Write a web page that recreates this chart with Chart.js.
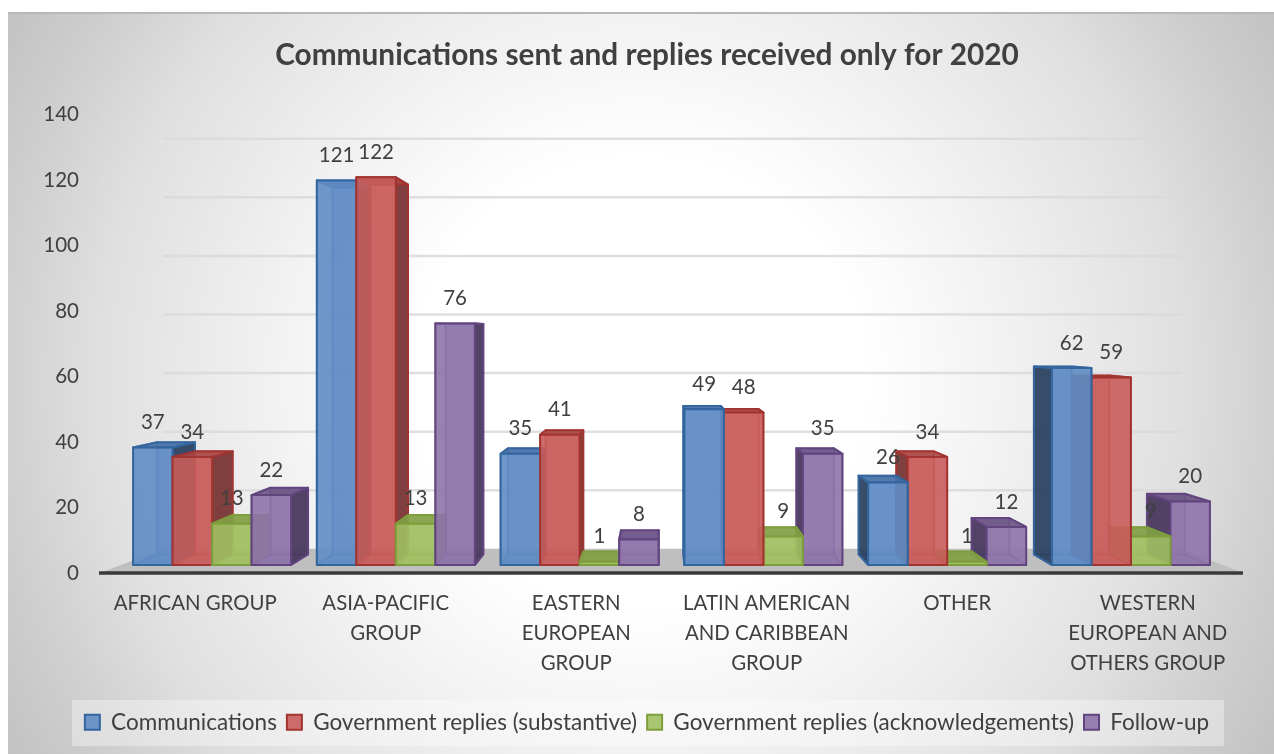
<!DOCTYPE html>
<html>
<head>
<meta charset="utf-8">
<script src="https://cdn.jsdelivr.net/npm/chart.js@4"></script>
<style>
	html, body { margin: 0; padding: 0; background: #fff; overflow: hidden; }
	#wrap { width: 1274px; height: 754px; }
</style>
</head>
<body>
<div id="wrap"><canvas id="chart-canvas" width="1274" height="754"></canvas></div>
<script>
const categories = [
	"AFRICAN GROUP",
	["ASIA-PACIFIC", "GROUP"],
	["EASTERN", "EUROPEAN", "GROUP"],
	["LATIN AMERICAN", "AND CARIBBEAN", "GROUP"],
	"OTHER",
	["WESTERN", "EUROPEAN AND", "OTHERS GROUP"]
];
const communications = [37, 121, 35, 49, 26, 62];
const substantive = [34, 122, 41, 48, 34, 59];
const acknowledgements = [13, 13, 1, 9, 1, 9];
const followUp = [22, 76, 8, 35, 12, 20];

// perspective: everything recedes towards this point
const vanish = {x: 660, y: 335};
const barDepth = 0.046;
const wall = {left: 163, right: 1181};

const withIndex = values => values.map((v, i) => ({x: i, y: v}));

function poly(ctx, pts, fill, edge) {
	ctx.beginPath();
	pts.forEach((p, i) => i ? ctx.lineTo(p[0], p[1]) : ctx.moveTo(p[0], p[1]));
	ctx.closePath();
	if (fill) {
		ctx.fillStyle = fill;
		ctx.fill();
	}
	if (edge) {
		ctx.strokeStyle = edge;
		ctx.stroke();
	}
}

function back(p) {
	return [p[0] + (vanish.x - p[0]) * barDepth, p[1] + (vanish.y - p[1]) * barDepth];
}

function drawBox(ctx, bar, ds) {
	const l = bar.x - bar.width / 2, r = bar.x + bar.width / 2, t = bar.y, b = bar.base;
	const fl = [l, b], fr = [r, b], tl = [l, t], tr = [r, t];
	const bfl = back(fl), bfr = back(fr), btl = back(tl), btr = back(tr);
	const edge = ds.borderColor;
	ctx.lineWidth = 1.6;
	poly(ctx, [btl, btr, bfr, bfl], ds.wallColor, ds.thinEdge);
	poly(ctx, [fl, fr, bfr, bfl], ds.wallColor, ds.thinEdge);
	ctx.lineWidth = 2;
	poly(ctx, [tl, fl, bfl, btl], l > vanish.x ? ds.sideColor : null, l > vanish.x ? edge : ds.thinEdge);
	poly(ctx, [tr, fr, bfr, btr], r < vanish.x ? ds.sideColor : null, r < vanish.x ? edge : ds.thinEdge);
	poly(ctx, [tl, tr, btr, btl], ds.topColor, edge);
	poly(ctx, [tl, tr, fr, fl], ds.backgroundColor, edge);
}

const backdrop = {
	id: "backdrop",
	afterLayout(chart) {
		// the tick labels are clipped to the scale box, let them reach further left
		chart.scales.y.left = 0;
	},
	beforeDraw(chart) {
		const ctx = chart.ctx;
		ctx.save();
		// page panel with its radial fill
		ctx.beginPath();
		ctx.rect(8, 12, 1266, 742);
		ctx.clip();
		const g = ctx.createRadialGradient(640, 383, 0, 640, 383, 750);
		g.addColorStop(0, "#ffffff");
		g.addColorStop(0.3, "#ffffff");
		g.addColorStop(0.51, "#f0f0f0");
		g.addColorStop(0.72, "#e0e0e0");
		g.addColorStop(0.855, "#cfcfcf");
		g.addColorStop(1, "#c0c0c0");
		ctx.fillStyle = g;
		ctx.fillRect(8, 12, 1266, 742);
		ctx.restore();
		ctx.fillStyle = "#b8b8b8";
		ctx.fillRect(8, 12, 1266, 2);
		// legend band
		ctx.fillStyle = "rgba(255,255,255,0.35)";
		ctx.fillRect(72, 700, 1152, 46);
	}
};

const scene3d = {
	id: "scene3d",
	beforeDatasetDraw() {
		return false;
	},
	beforeDatasetsDraw(chart) {
		const ctx = chart.ctx, area = chart.chartArea;
		const front = chart.scales.y, rear = chart.scales.yWall;
		const floorY = rear.getPixelForValue(0), frontY = front.getPixelForValue(0);
		ctx.save();
		front.ticks.forEach(t => {
			if (t.value === 0) return;
			const y0 = front.getPixelForValue(t.value), y1 = rear.getPixelForValue(t.value);
			ctx.strokeStyle = "rgba(228,228,228,0.22)";
			ctx.lineWidth = 2;
			ctx.beginPath();
			ctx.moveTo(area.left, y0);
			ctx.lineTo(wall.left, y1);
			ctx.stroke();
			ctx.strokeStyle = "rgba(217,217,217,0.85)";
			ctx.lineWidth = 2.5;
			ctx.beginPath();
			ctx.moveTo(wall.left, y1);
			ctx.lineTo(wall.right, y1);
			ctx.stroke();
		});
		poly(ctx, [[area.left, frontY], [wall.left, floorY], [wall.right, floorY], [area.right, frontY]], "#bfbfbf");
		ctx.strokeStyle = "#3a3a3a";
		ctx.lineWidth = 3.5;
		ctx.beginPath();
		ctx.moveTo(area.left - 1, frontY);
		ctx.lineTo(area.right, frontY);
		ctx.stroke();
		ctx.restore();
	},
	afterDatasetsDraw(chart) {
		const ctx = chart.ctx;
		const metas = chart.data.datasets.map((ds, i) => chart.getDatasetMeta(i));
		ctx.save();
		ctx.lineJoin = "round";
		categories.forEach((c, i) => {
			const order = metas.slice();
			if (metas[0].data[i].x > vanish.x) order.reverse();
			order.forEach(meta => drawBox(ctx, meta.data[i], chart.data.datasets[meta.index]));
		});
		// value labels
		ctx.fillStyle = "#404040";
		ctx.font = "20.5px Lato";
		ctx.textAlign = "center";
		ctx.textBaseline = "middle";
		metas.forEach((meta, m) => {
			meta.data.forEach((bar, i) => {
				ctx.fillText(chart.data.datasets[m].data[i].y, bar.x, bar.y - 25);
			});
		});
		ctx.restore();
	}
};

new Chart("chart-canvas", {
	type: "bar",
	plugins: [backdrop, scene3d],
	data: {
		labels: categories,
		datasets: [
			{
				label: "Communications",
				data: withIndex(communications),
				xAxisID: "xBars",
				yAxisID: "yBars",
				backgroundColor: "rgba(95,140,196,0.9)",
				borderColor: "#33659f",
				thinEdge: "rgba(47,97,159,0.55)",
				sideColor: "rgba(40,62,92,0.9)",
				topColor: "rgba(70,112,165,0.9)",
				wallColor: "rgba(79,129,189,0.35)",
				borderWidth: 2
			},
			{
				label: "Government replies (substantive)",
				data: withIndex(substantive),
				xAxisID: "xBars",
				yAxisID: "yBars",
				backgroundColor: "rgba(200,92,90,0.9)",
				borderColor: "#a23431",
				thinEdge: "rgba(162,52,49,0.55)",
				sideColor: "rgba(118,50,50,0.9)",
				topColor: "rgba(170,70,68,0.9)",
				wallColor: "rgba(192,80,77,0.35)",
				borderWidth: 2
			},
			{
				label: "Government replies (acknowledgements)",
				data: withIndex(acknowledgements),
				xAxisID: "xBars",
				yAxisID: "yBars",
				backgroundColor: "rgba(160,192,96,0.9)",
				borderColor: "#7e9d3c",
				thinEdge: "rgba(126,157,60,0.55)",
				sideColor: "rgba(116,144,60,0.9)",
				topColor: "rgba(130,160,70,0.9)",
				wallColor: "rgba(155,187,89,0.35)",
				borderWidth: 2
			},
			{
				label: "Follow-up",
				data: withIndex(followUp),
				xAxisID: "xBars",
				yAxisID: "yBars",
				backgroundColor: "rgba(142,115,170,0.9)",
				borderColor: "#62457f",
				thinEdge: "rgba(98,69,127,0.55)",
				sideColor: "rgba(72,56,92,0.92)",
				topColor: "rgba(105,82,132,0.9)",
				wallColor: "rgba(128,100,162,0.35)",
				borderWidth: 2
			}
		]
	},
	options: {
		responsive: false,
		animation: false,
		events: [],
		barThickness: 39.5,
		layout: {
			padding: {left: 51, right: 31, top: 0, bottom: 10.5}
		},
		scales: {
			x: {
				type: "category",
				offset: true,
				grid: {display: false},
				border: {display: false},
				afterFit: scale => { scale.height = 128; },
				ticks: {
					color: "#404040",
					font: {family: "Lato", size: 20.4, lineHeight: 1.45},
					maxRotation: 0,
					autoSkip: false,
					padding: 8
				}
			},
			y: {
				min: 0,
				max: 140,
				grid: {display: false},
				border: {display: false},
				afterFit: scale => { scale.width = 49; },
				ticks: {
					stepSize: 20,
					color: "#404040",
					font: {family: "Lato", size: 20.5},
					padding: 13
				}
			},
			xBars: {type: "linear", display: false, offset: false, grid: {offset: false}, min: -0.61, max: 5.61},
			yBars: {type: "linear", display: false, min: -2.51, max: 141.7},
			yWall: {type: "linear", display: false, min: -8.27, max: 148.2}
		},
		plugins: {
			tooltip: {enabled: false},
			title: {
				display: true,
				text: "Communications sent and replies received only for 2020",
				color: "#404040",
				font: {family: "Lato", size: 29.8, weight: "bold"},
				padding: {top: 38, bottom: 41}
			},
			legend: {
				position: "bottom",
				labels: {
					color: "#404040",
					font: {family: "Lato", size: 22.5},
					boxWidth: 15,
					boxHeight: 15,
					padding: 10
				}
			}
		}
	}
});
</script>
</body>
</html>
